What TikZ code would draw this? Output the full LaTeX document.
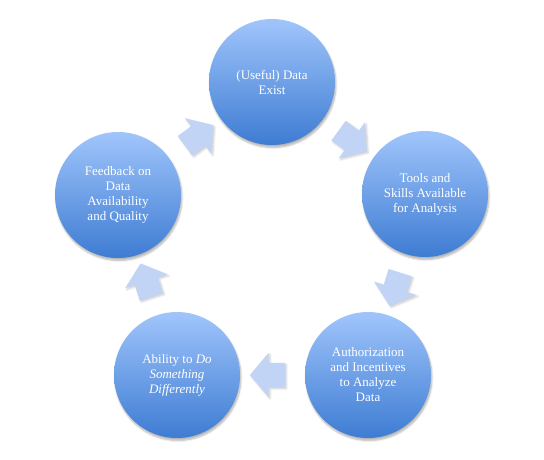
\documentclass[tikz,border=0pt]{standalone}
\usepackage{fontspec}
\setmainfont{Liberation Serif}
\usetikzlibrary{shapes.arrows,shadows.blur,calc}
\definecolor{ctop}{RGB}{160,197,251}
\definecolor{cbot}{RGB}{62,124,211}
\definecolor{arr}{RGB}{194,212,245}
\begin{document}
\begin{tikzpicture}[x=1pt,y=-1pt,
  circ/.style={circle, minimum size=126pt, inner sep=0pt, top color=ctop, bottom color=cbot, draw=none,
    blur shadow={shadow xshift=1pt, shadow yshift=-2.5pt, shadow blur steps=6, shadow opacity=30},
    text=white, align=center, font=\fontsize{13}{15}\selectfont},
  blk/.style={single arrow, minimum height=35pt, inner xsep=0pt, inner ysep=12pt,
    single arrow head extend=10pt, single arrow tip angle=100, fill=arr, draw=none,
    blur shadow={shadow xshift=1.5pt, shadow yshift=-1.5pt, shadow blur steps=5, shadow opacity=20}}]
\useasboundingbox (0,0) rectangle (544,460);
\node[circ] (n1) at (272,82) {(Useful) Data\\Exist};
\node[circ] (n2) at (425,194) {Tools and\\Skills Available\\for Analysis};
\node[circ] (n3) at (368,375) {Authorization\\and Incentives\\to Analyze\\Data};
\node[circ] (n4) at (177,375) {Ability to \textit{Do}\\\textit{Something}\\\textit{Differently}};
\node[circ] (n5) at (118,195) {Feedback on\\Data\\Availability\\and Quality};
\node[blk, rotate=-36.2] (a1) at ($(n1)!0.5!(n2)$) {};
\node[blk, rotate=-107.5] (a2) at ($(n2)!0.5!(n3)$) {};
\node[blk, rotate=180] (a3) at ($(n3)!0.5!(n4)$) {};
\node[blk, rotate=108.1] (a4) at ($(n4)!0.5!(n5)$) {};
\node[blk, rotate=36.3] (a5) at ($(n5)!0.5!(n1)$) {};
\end{tikzpicture}
\end{document}
